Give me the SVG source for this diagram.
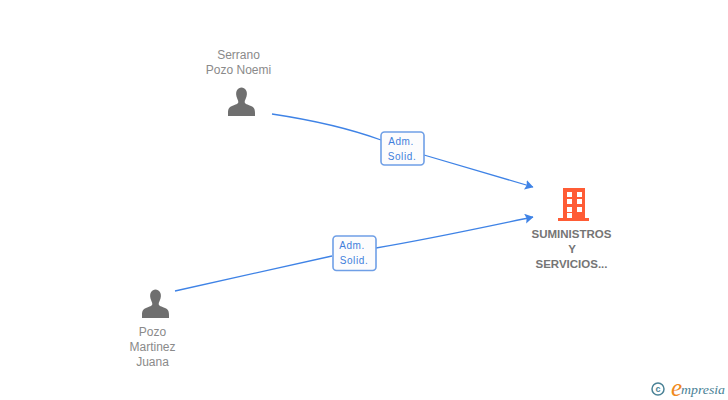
<svg xmlns="http://www.w3.org/2000/svg" width="728" height="400" viewBox="0 0 728 400">
<defs>
<style>
.n{font:12px "Liberation Sans",Arial,sans-serif;fill:#8a8a8a;text-anchor:middle}
.b{font:bold 11.500px "Liberation Sans",Arial,sans-serif;fill:#757575;text-anchor:middle}
.l{font:10px "Liberation Sans",Arial,sans-serif;fill:#3f7fdc;text-anchor:middle;letter-spacing:.6px}
.c{fill:none;stroke:#3f83e6;stroke-width:1.3}
.box{fill:#fcfcfd;stroke:#6f9fe6;stroke-width:1.6}
.p{fill:#6f6f6f}
</style>
<marker id="a" markerUnits="userSpaceOnUse" markerWidth="12" markerHeight="12" refX="8" refY="5" orient="auto"><path d="M0 0L8.500 5L0 10L1.500 5Z" fill="#3f83e6"/></marker>
<path id="person" d="M-5-19.500C-6.500-25-3.500-28.500 0-28.500S6.500-25 5-19.500C4.200-17 3.200-15.500 3.200-14C3.200-12 6-11.500 9.500-10C12.500-8.800 13.500-7 13.500-3V0H-13.500V-3C-13.500-7-12.500-8.800-9.500-10C-6-11.500-3.200-12-3.200-14C-3.200-15.500-4.200-17-5-19.500Z"/>
</defs>
<rect width="728" height="400" fill="#fff"/>
<g id="connectors">
<path class="c" marker-end="url(#a)" d="M272 114C312 120 348 128 381 140M424 155L533 187"/>
<path class="c" marker-end="url(#a)" d="M175 291L332 256M376 248C430 239 485 227 533 217"/>
</g>
<g id="node-serrano">
<text class="n" x="238.500" y="59">Serrano</text><text class="n" x="238.500" y="74">Pozo Noemi</text>
<use href="#person" class="p" x="241.500" y="116"/>
</g>
<g id="node-pozo">
<use href="#person" class="p" x="155.500" y="318"/>
<text class="n" x="152.500" y="336">Pozo</text><text class="n" x="152.500" y="351">Martinez</text><text class="n" x="152.500" y="366">Juana</text>
</g>
<g id="node-company">
<path fill="#ff5c35" fill-rule="evenodd" d="M563 188H585V218H589V221H558V218H563ZM567 192V197H572V192ZM577 192V197H582V192ZM567 199V204H572V199ZM577 199V204H582V199ZM567 207V212H572V207ZM577 207V212H582V207ZM567 213V218H572V213Z"/>
<text class="b" x="571.500" y="238">SUMINISTROS</text><text class="b" x="572" y="253">Y</text><text class="b" x="571.500" y="268">SERVICIOS...</text>
</g>
<g id="label-1">
<rect class="box" x="381" y="132" width="43" height="33" rx="3.500"/>
<text class="l" x="401" y="145">Adm.</text><text class="l" x="402" y="160">Solid.</text>
</g>
<g id="label-2">
<rect class="box" x="333" y="236" width="43" height="34.500" rx="3.500"/>
<text class="l" x="352" y="249">Adm.</text><text class="l" x="354" y="264">Solid.</text>
</g>
<g id="watermark">
<circle cx="658" cy="389" r="6" fill="none" stroke="#4a8296" stroke-width="1.500"/>
<text x="658" y="392" font-family="Liberation Sans,sans-serif" font-size="9" font-weight="bold" fill="#4a8296" text-anchor="middle">c</text>
<text x="671" y="396" font-family="Liberation Serif,serif" font-style="italic" font-size="25" fill="#f08a1d">e</text>
<text x="681" y="394" font-family="Liberation Serif,serif" font-style="italic" font-size="13" textLength="44" lengthAdjust="spacingAndGlyphs" fill="#4a8296">mpresia</text>
</g>
</svg>
